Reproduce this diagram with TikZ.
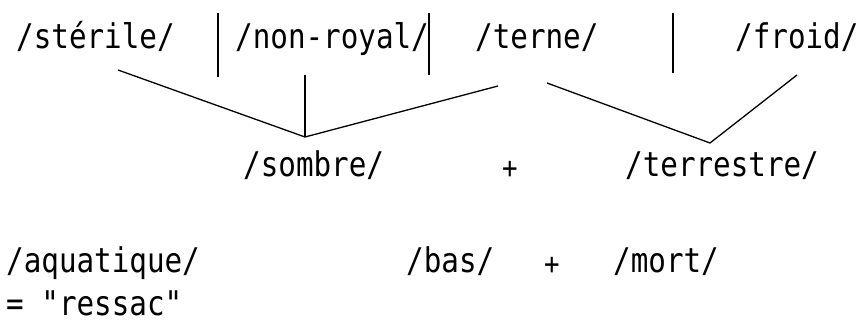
\documentclass[tikz,border=0pt]{standalone}
\usepackage{fontspec}
\newfontfamily\genevafont[FakeStretch=0.86]{DejaVu Sans Mono}
\usepackage{tikz}

\tikzset{
  seme/.style={anchor=base west, inner sep=0pt, font=\genevafont\fontsize{34}{34}\selectfont},
  plus/.style={inner sep=0pt, font=\genevafont\fontsize{30}{30}\selectfont},
  branch/.style={line width=1.3pt},
  bar/.style={line width=1.8pt}
}

\begin{document}
\begin{tikzpicture}[x=1pt,y=-1pt]
            \useasboundingbox (0,0) rectangle (861,323);

            % top row of semes
            \node[seme] (sterile) at (16,49) {/stérile/};
            \node[seme] (nonroyal) at (235,49) {/non-royal/};
            \node[seme] (terne) at (475,49) {/terne/};
            \node[seme] (froid) at (735,49) {/froid/};

            \coordinate (barA top) at (218,13);
            \coordinate (barA bot) at (218,77);
            \coordinate (barB top) at (429,13);
            \coordinate (barB bot) at (429,75);
            \coordinate (barC top) at (673,13);
            \coordinate (barC bot) at (673,73);
            \draw[bar] (barA top) -- (barA bot);
            \draw[bar] (barB top) -- (barB bot);
            \draw[bar] (barC top) -- (barC bot);

            % second row
            \node[seme] (sombre) at (243,177) {/sombre/};
            \node[plus] (plus1) at (510,170) {+};
            \node[seme] (terrestre) at (625,177) {/terrestre/};

            % branches towards /sombre/
            \coordinate (sombre join) at (305,137);
            \coordinate (sterile end) at (118,70);
            \coordinate (nonroyal end) at (305,75);
            \coordinate (terne left) at (498,86);
            \draw[branch] (sterile end) -- (sombre join) -- (terne left);
            \draw[branch] (nonroyal end) -- (sombre join);

            % branches towards /terrestre/
            \coordinate (terrestre join) at (710,143);
            \coordinate (terne right) at (547,83);
            \coordinate (froid end) at (797,75);
            \draw[branch] (terne right) -- (terrestre join) -- (froid end);

            % bottom rows
            \node[seme] (aquatique) at (6,272) {/aquatique/};
            \node[seme] (bas) at (406,272) {/bas/};
            \node[plus] (plus2) at (552,266) {+};
            \node[seme] (mort) at (613,272) {/mort/};
            \node[seme] (ressac) at (6,315) {= "ressac"};
        \end{tikzpicture}
\end{document}
